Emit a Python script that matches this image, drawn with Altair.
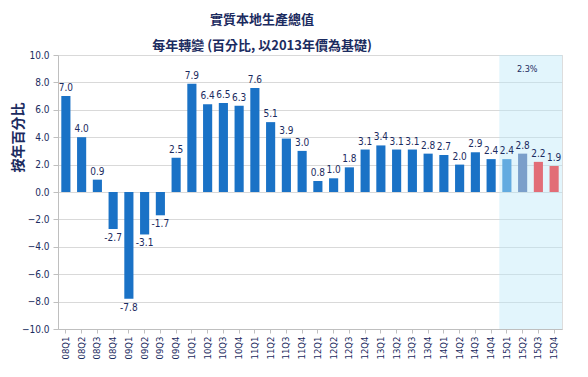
import altair as alt
import pandas as pd

quarters = ["08Q1","08Q2","08Q3","08Q4","09Q1","09Q2","09Q3","09Q4",
            "10Q1","10Q2","10Q3","10Q4","11Q1","11Q2","11Q3","11Q4",
            "12Q1","12Q2","12Q3","12Q4","13Q1","13Q2","13Q3","13Q4",
            "14Q1","14Q2","14Q3","14Q4","15Q1","15Q2","15Q3","15Q4"]
values = [7.0, 4.0, 0.9, -2.7, -7.8, -3.1, -1.7, 2.5,
          7.9, 6.4, 6.5, 6.3, 7.6, 5.1, 3.9, 3.0,
          0.8, 1.0, 1.8, 3.1, 3.4, 3.1, 3.1, 2.8,
          2.7, 2.0, 2.9, 2.4, 2.4, 2.8, 2.2, 1.9]
kinds = ["A"] * 28 + ["B", "C", "D", "D"]
kind_domain = ["A", "B", "C", "D"]
kind_colors = ["#1a72c6", "#62abe0", "#7b9fca", "#e26d77"]
shade_start = ["15Q1"]
shade_label = ["2.3%"]
y_ticks = [-10, -8, -6, -4, -2, 0, 2, 4, 6, 8, 10]

df = pd.DataFrame({"q": quarters, "v": values, "k": kinds})
df["lab"] = df["v"].map(lambda x: f"{x:.1f}")

navy = "#1b2b60"
num_font = "DejaVu Sans Condensed"

xscale = alt.Scale(domain=quarters, paddingInner=0.42, paddingOuter=0.21)
yscale = alt.Scale(domain=[-10, 10], nice=False)

xaxis = alt.Axis(title=None, labelAngle=-90, labelFont=num_font, labelFontSize=9.5,
                 labelColor=navy, domainColor="#bfbfbf", tickColor="#bfbfbf",
                 tickSize=4, labelPadding=3, grid=False, labelOverlap=False)
yaxis = alt.Axis(title="按年百分比", titleFont="Noto Sans CJK TC", titleFontSize=14,
                 titleFontWeight="bold", titleColor=navy, titleAngle=270,
                 titleX=-40, titleY=82, titleAlign="center", titleBaseline="middle",
                 values=y_ticks, format=".1f", labelOverlap=False,
                 labelFont=num_font, labelFontSize=10, labelColor=navy,
                 domainColor="#bfbfbf", tickColor="#bfbfbf", tickSize=5,
                 gridColor="#d9d9d9", labelPadding=4)

base = alt.Chart(df)

shade = alt.Chart(pd.DataFrame({"s": shade_start, "y0": [-10], "y1": [10]})).mark_rect(
    color="#b9e6f7", opacity=0.42, xOffset=-3
).encode(
    x=alt.X("s:N", scale=xscale, axis=xaxis, bandPosition=0),
    x2=alt.value(504),
    y=alt.Y("y0:Q", scale=yscale, axis=yaxis),
    y2="y1:Q",
)

bars = base.mark_bar().encode(
    x=alt.X("q:N", scale=xscale, axis=xaxis, sort=quarters),
    y=alt.Y("v:Q", scale=yscale, axis=yaxis),
    color=alt.Color("k:N", scale=alt.Scale(domain=kind_domain, range=kind_colors), legend=None),
)

pos_labels = base.transform_filter("datum.v >= 0").mark_text(
    baseline="bottom", dy=-3, font=num_font, fontSize=10, color=navy
).encode(x=alt.X("q:N", scale=xscale, sort=quarters, axis=xaxis),
         y=alt.Y("v:Q", scale=yscale, axis=yaxis), text="lab:N")

neg_labels = base.transform_filter("datum.v < 0").mark_text(
    baseline="top", dy=4, font=num_font, fontSize=10, color=navy
).encode(x=alt.X("q:N", scale=xscale, sort=quarters, axis=xaxis),
         y=alt.Y("v:Q", scale=yscale, axis=yaxis), text="lab:N")

note = alt.Chart(pd.DataFrame({"t": shade_label, "q": ["15Q2"], "y": [9.0]})).mark_text(
    font=num_font, fontSize=9, color=navy
).encode(x=alt.X("q:N", scale=xscale, bandPosition=1, axis=xaxis),
         y=alt.Y("y:Q", scale=yscale, axis=yaxis), text="t:N")

chart = alt.layer(shade, bars, pos_labels, neg_labels, note).properties(
    width=504, height=274,
    autosize=alt.AutoSizeParams(type="none"),
    padding={"left": 58, "top": 55, "right": 26, "bottom": 48},
    title=alt.TitleParams(
        text=["實質本地生產總值", "每年轉變 (百分比, 以2013年價為基礎)"],
        font="Noto Sans CJK TC", fontSize=13, fontWeight="bold", color=navy,
        lineHeight=26, anchor="middle", dx=-48, dy=21, baseline="bottom", offset=5,
    ),
).configure_view(stroke=None).configure(background="white")

chart.save("out.html", embed_options={"renderer": "svg", "actions": False})
